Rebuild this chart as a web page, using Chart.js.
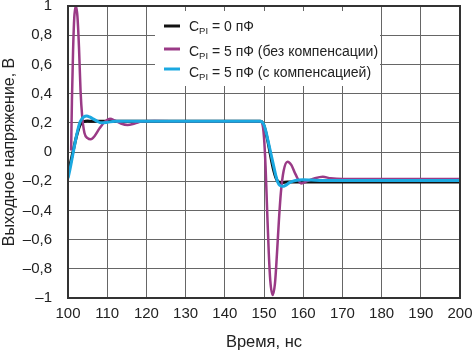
<!DOCTYPE html>
<html>
<head>
<meta charset="utf-8">
<script src="https://cdn.jsdelivr.net/npm/chart.js@4/dist/chart.umd.min.js"></script>
<style>
  html, body { margin: 0; padding: 0; background: #fff; }
  #wrap { width: 474px; height: 352px; }
</style>
</head>
<body>
<div id="wrap"><canvas id="chart1" width="474" height="352"></canvas></div>
<script>
    // C_PI = 0 pF
    let timeBlack = [100, 100.5, 101, 101.5, 102, 102.5, 103, 103.5, 104, 105, 106, 110, 120, 130, 140, 149, 149.5, 150, 150.5, 151, 151.5, 152, 152.5, 153, 153.5, 154, 154.5, 156, 160, 180, 200];
    let voltBlack = [-0.13, -0.09, -0.03, 0.03, 0.09, 0.14, 0.18, 0.2, 0.208, 0.212, 0.21, 0.21, 0.21, 0.21, 0.21, 0.21, 0.205, 0.18, 0.13, 0.07, 0.0, -0.07, -0.13, -0.175, -0.2, -0.207, -0.21, -0.205, -0.205, -0.205, -0.205];

    // C_PI = 5 pF, no compensation
    let timePurple = [100.8, 101, 101.3, 101.6, 102, 102.4, 102.8, 103.2, 103.6, 104.2, 105, 105.8, 106.8, 108, 109.5, 110.7, 112, 113.5, 115.2, 117, 119, 122, 130, 140, 149, 149.5, 150, 150.4, 150.8, 151.2, 151.6, 152.2, 152.8, 153.3, 153.8, 154.3, 155, 156, 157, 158, 159.5, 161, 163, 165, 167, 170, 200];
    let voltPurple = [0.01, 0.35, 0.7, 0.92, 1.0, 0.93, 0.72, 0.42, 0.25, 0.13, 0.095, 0.087, 0.11, 0.16, 0.21, 0.227, 0.215, 0.195, 0.185, 0.195, 0.21, 0.212, 0.21, 0.21, 0.21, 0.2, 0.1, -0.1, -0.4, -0.68, -0.88, -0.98, -0.9, -0.7, -0.47, -0.28, -0.13, -0.066, -0.09, -0.15, -0.215, -0.2, -0.18, -0.17, -0.18, -0.185, -0.185];

    // C_PI = 5 pF, compensated
    let timeCyan = [100, 100.5, 101, 101.5, 102, 102.5, 103, 103.5, 104, 104.8, 105.5, 106.5, 107.5, 108.5, 110, 112, 120, 140, 149, 149.5, 150, 150.5, 151, 151.5, 152, 152.5, 153, 153.5, 154, 154.7, 155.5, 156.5, 158, 160, 162, 165, 170, 200];
    let voltCyan = [-0.18, -0.12, -0.05, 0.02, 0.09, 0.15, 0.2, 0.225, 0.24, 0.246, 0.24, 0.225, 0.21, 0.2, 0.203, 0.21, 0.21, 0.21, 0.21, 0.205, 0.185, 0.14, 0.08, 0.02, -0.04, -0.1, -0.16, -0.205, -0.228, -0.235, -0.228, -0.21, -0.195, -0.19, -0.192, -0.195, -0.195, -0.195];

    let legendNames = [' = 0 пФ', ' = 5 пФ (без компенсации)', ' = 5 пФ (с компенсацией)'];
    let lineColors = ['#111111', '#9a3a86', '#1ba8e0'];

    function toPoints(xs, ys) {
        return xs.map(function(x, i) { return {x: x, y: ys[i]}; });
    }

    let fontFamily = '"Liberation Sans", Arial, sans-serif';

    // white legend box with subscripts, plus the plot frame
    let legendAndFrame = {
        id: 'legendAndFrame',
        afterDatasetsDraw: function(chart) {
            let ctx = chart.ctx;
            let a = chart.chartArea;
            ctx.save();
            ctx.fillStyle = '#fff';
            ctx.fillRect(155, 11, 225, 75);
            let lineY = [26, 49, 69];
            let textY = [27, 52, 73];
            for (let i = 0; i < 3; i++) {
                ctx.strokeStyle = lineColors[i];
                ctx.lineWidth = 3;
                ctx.beginPath();
                ctx.moveTo(164, lineY[i]);
                ctx.lineTo(180, lineY[i]);
                ctx.stroke();
                ctx.fillStyle = '#222';
                ctx.textBaseline = 'middle';
                ctx.font = '14px ' + fontFamily;
                let x = 189;
                ctx.fillText('C', x, textY[i]);
                x += ctx.measureText('C').width;
                ctx.font = '9.5px ' + fontFamily;
                ctx.fillText('PI', x, textY[i] + 4);
                x += ctx.measureText('PI').width;
                ctx.font = '14px ' + fontFamily;
                ctx.fillText(legendNames[i], x, textY[i]);
            }
            ctx.strokeStyle = '#333';
            ctx.lineWidth = 2;
            ctx.strokeRect(a.left, a.top, a.right - a.left, a.bottom - a.top);
            ctx.restore();
        }
    };

    let chart1 = document.getElementById('chart1').getContext('2d');

    let responseChart = new Chart(chart1, {
    type:'line',
    data:{
    datasets:[
    {
    label:'CPI = 5 пФ (с компенсацией)',
    data:toPoints(timeCyan, voltCyan),
    borderColor:lineColors[2],
    borderWidth:3,
    order:0
},
    {
    label:'CPI = 5 пФ (без компенсации)',
    data:toPoints(timePurple, voltPurple),
    borderColor:lineColors[1],
    borderWidth:2.5,
    order:1
},
    {
    label:'CPI = 0 пФ',
    data:toPoints(timeBlack, voltBlack),
    borderColor:lineColors[0],
    borderWidth:3,
    order:2
}
]
},
    options:{
    responsive:false,
    animation:false,
    devicePixelRatio:1,
    elements:{
    point:{radius:0},
    line:{cubicInterpolationMode:'monotone', fill:false}
},
    layout:{
    padding:{left:0, right:14, top:6, bottom:0}
},
    plugins:{
    legend:{display:false},
    tooltip:{enabled:false}
},
    scales:{
    x:{
    type:'linear',
    min:100,
    max:200,
    border:{display:false},
    grid:{color:'#666', lineWidth:1, borderDash:[1.5, 3], drawTicks:false},
    ticks:{stepSize:10, padding:7, color:'#222', font:{family:fontFamily, size:15}, maxRotation:0},
    title:{display:true, text:'Время, нс', color:'#222', font:{family:fontFamily, size:16.5}, padding:0},
    afterFit:function(s) { s.height = 54; s.paddingLeft = 0; s.paddingRight = 0; }
},
    y:{
    min:-1,
    max:1,
    border:{display:false},
    grid:{color:'#666', lineWidth:1, borderDash:[1.5, 3], drawTicks:false},
    ticks:{
    stepSize:0.2,
    padding:16,
    color:'#222',
    font:{family:fontFamily, size:15},
    callback:function(v) {
        let r = Math.round(v * 10) / 10;
        if (r === 0) return '0';
        let s = Math.abs(r).toString().replace('.', ',');
        return r < 0 ? '\u2013' + s : s;
    }
},
    title:{display:true, text:'Выходное напряжение, В', color:'#222', font:{family:fontFamily, size:16}, padding:0},
    afterFit:function(s) { s.width = 68; s.paddingTop = 0; s.paddingBottom = 0; }
}
}
},
    plugins:[legendAndFrame]
});
</script>
</body>
</html>
